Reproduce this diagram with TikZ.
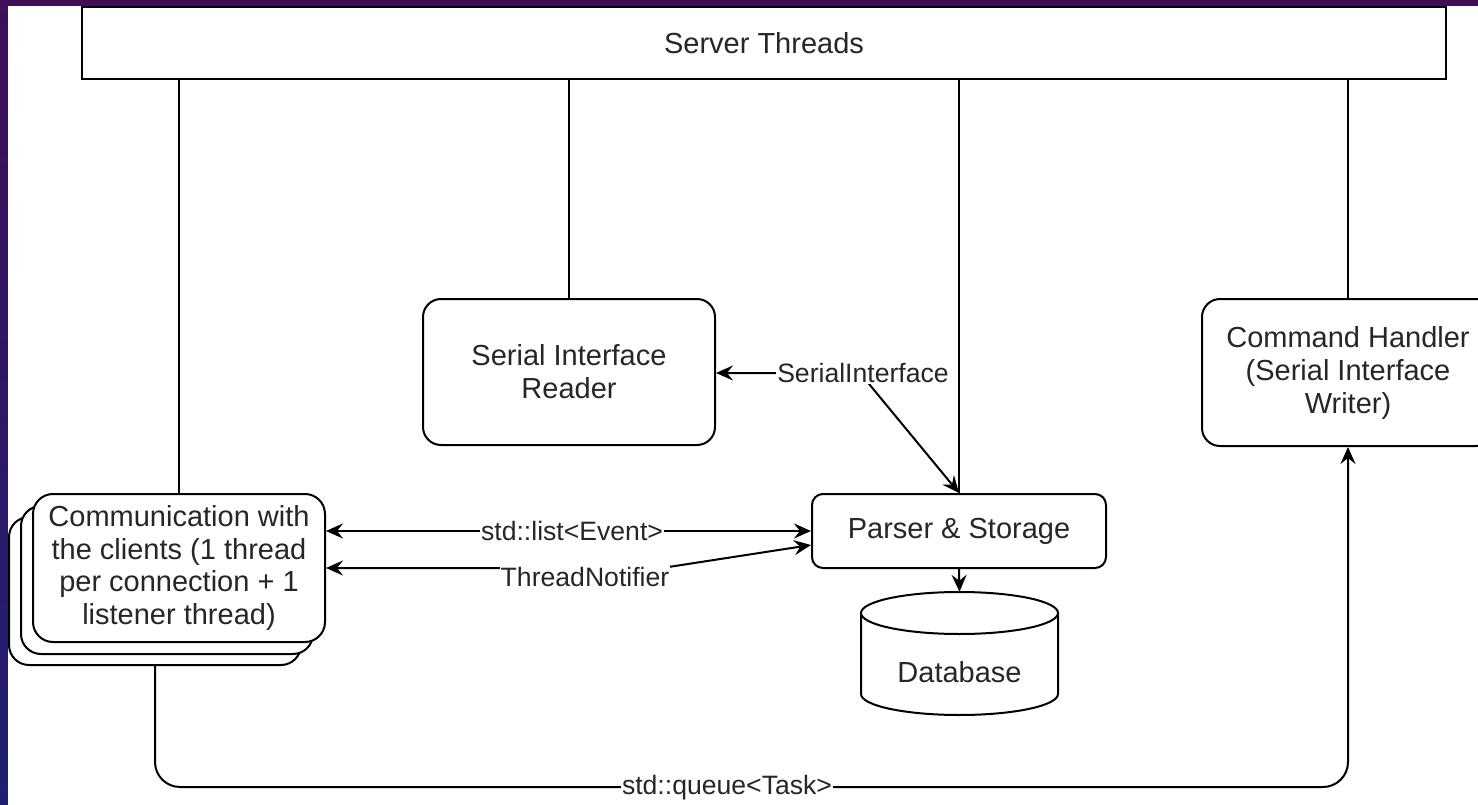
\documentclass[tikz,border=0pt]{standalone}
\usepackage{fontspec}
\setmainfont{Liberation Sans}
\usetikzlibrary{arrows.meta,calc}
\definecolor{bgtop}{HTML}{3F0F58}
\definecolor{bgbot}{HTML}{1F2170}
\definecolor{txt}{HTML}{262626}
\tikzset{tipA/.tip={Stealth[length=17pt,width=15pt,inset=6pt]}}
\begin{document}
\begin{tikzpicture}[x=1pt,y=-1pt,
  box/.style={draw, line width=2pt, fill=white, text=txt, font=\fontsize{29}{33}\selectfont, align=center, inner sep=0pt},
  rbox/.style={box, rounded corners=18pt},
  wire/.style={line width=2pt},
  both/.style={wire, tipA-tipA},
  fwd/.style={wire, -tipA},
  lbl/.style={fill=white, text=txt, font=\fontsize{26.6}{30}\selectfont, inner sep=1pt}]
\useasboundingbox (0,0) rectangle (1478,805);
\clip (0,0) rectangle (1478,805);
\fill[top color=bgtop, bottom color=bgbot] (0,0) rectangle (1478,805);
\fill[white] (8,6) rectangle (1478,805);

% nodes
\node[box, minimum width=1364pt, minimum height=72pt] (st) at (764,43) {Server Threads};
\node[rbox, minimum width=292pt, minimum height=146pt] (sir) at (569,372) {Serial Interface\\Reader};
\node[rbox, minimum width=292pt, minimum height=147pt] (ch) at (1348,372.5) {Command Handler\\(Serial Interface\\Writer)};
\node[box, rounded corners=11pt, minimum width=294pt, minimum height=74pt] (ps) at (959,531) {Parser \& Storage};
\node[rbox, rounded corners=20pt, minimum width=292pt, minimum height=148pt] (cback) at (155,591) {};
\node[rbox, rounded corners=20pt, minimum width=292pt, minimum height=148pt] (cmid) at (167,580) {};
\node[rbox, rounded corners=20pt, minimum width=292pt, minimum height=148pt, font=\fontsize{29}{32.5}\selectfont] (comm) at (179,568) {Communication with\\the clients (1 thread\\per connection + 1\\listener thread)};

% database cylinder
\node[minimum width=197pt, minimum height=123pt, inner sep=0pt] (db) at (959.5,653.5) {};
\draw[wire, fill=white] (861,613) -- (861,694) arc[start angle=180,end angle=360,x radius=98.5pt,y radius=21pt] -- (1058,613);
\draw[wire, fill=white] (959.5,613) ellipse [x radius=98.5pt, y radius=21pt];
\node[text=txt, font=\fontsize{29}{33}\selectfont] (dbl) at (959.5,672) {Database};

% links to server threads
\draw[wire] (st.south -| comm.north) -- (comm.north);
\draw[wire] (st.south -| sir.north) -- (sir.north);
\draw[wire] (st.south -| ps.north) -- (ps.north);
\draw[wire] (st.south -| ch.north) -- (ch.north);

% SerialInterface
\coordinate (sib) at (860,373);
\draw[both] (sir.east |- sib) -- (sib) -- (ps.north);
\node[lbl] (sil) at (863,373) {SerialInterface};

% std::list<Event>
\draw[both] (comm.east |- ps.west) -- (ps.west);
\node[lbl] (ll) at (572,531) {std::list<Event>};

% ThreadNotifier
\coordinate (tnb) at (662,568);
\draw[both] (comm.east) -- (tnb) -- ($(ps.west)+(0,14)$);
\node[lbl] (tnl) at (585,577) {ThreadNotifier};

% parser -> database
\draw[fwd] (ps.south) -- (db.north);

% queue
\coordinate (q1) at (155,787);
\coordinate (q2) at (1348,787);
\draw[fwd, rounded corners=25pt] (cback.south) -- (q1) -- (q2) -- (ch.south);
\node[lbl] (ql) at (727,788) {std::queue<Task>};
\end{tikzpicture}
\end{document}
